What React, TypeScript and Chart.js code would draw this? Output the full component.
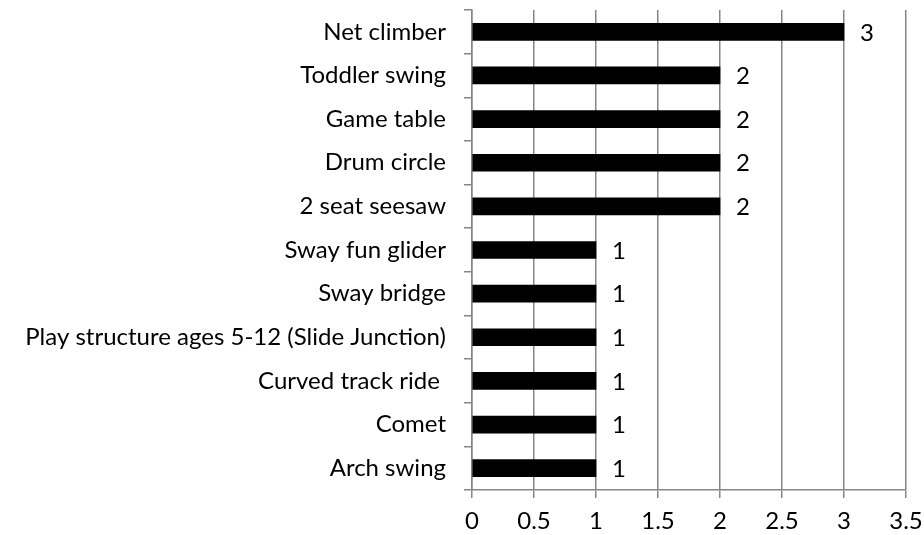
import React, { useEffect, useRef } from "react";
import { Chart, registerables } from "chart.js";

Chart.register(...registerables);

const categories = [
  "Net climber",
  "Toddler swing",
  "Game table",
  "Drum circle",
  "2 seat seesaw",
  "Sway fun glider",
  "Sway bridge",
  "Play structure ages 5-12 (Slide Junction)",
  "Curved track ride ",
  "Comet",
  "Arch swing",
];
const values = [3, 2, 2, 2, 2, 1, 1, 1, 1, 1, 1];
const xMin = 0;
const xMax = 3.5;
const xStep = 0.5;

const FONT = "Lato, 'Open Sans', sans-serif";
const FONT_SIZE = 24;

const valueLabels = {
  id: "valueLabels",
  afterDatasetsDraw(chart: any) {
    const ctx = chart.ctx;
    const meta = chart.getDatasetMeta(0);
    ctx.save();
    ctx.fillStyle = "#000";
    ctx.font = `${FONT_SIZE}px ${FONT}`;
    ctx.textAlign = "left";
    ctx.textBaseline = "middle";
    meta.data.forEach((bar: any, i: number) => {
      ctx.fillText(String(values[i]), bar.x + 16, bar.y + 1);
    });
    ctx.restore();
  },
};

export default function App() {
  const ref = useRef<HTMLCanvasElement>(null);
  useEffect(() => {
    if (!ref.current) return;
    const chart = new Chart(ref.current, {
      type: "bar",
      data: {
        labels: categories,
        datasets: [
          {
            data: values,
            backgroundColor: "#000000",
            borderWidth: 0,
            barThickness: 17,
          },
        ],
      },
      options: {
        indexAxis: "y",
        animation: false,
        responsive: false,
        maintainAspectRatio: false,
        layout: { padding: { top: 10, right: 18, left: 0, bottom: 0 } },
        plugins: {
          legend: { display: false },
          tooltip: { enabled: false },
        },
        scales: {
          x: {
            min: xMin,
            max: xMax,
            ticks: {
              stepSize: xStep,
              color: "#000",
              font: { family: FONT, size: FONT_SIZE },
              padding: 9,
              callback: (v: any) => String(Number(v)),
            },
            grid: {
              color: "#868686",
              lineWidth: 1.5,
              tickLength: 8,
              drawTicks: true,
            },
            border: { color: "#868686", width: 1.5 },
            afterFit(scale: any) {
              scale.height = 45;
              scale.paddingLeft = 0;
              scale.paddingRight = 0;
            },
          },
          y: {
            ticks: {
              color: "#000",
              font: { family: FONT, size: FONT_SIZE },
              padding: 18,
              autoSkip: false,
            },
            grid: {
              color: "#868686",
              lineWidth: 1.5,
              drawOnChartArea: false,
              tickLength: 8,
              offset: true,
            },
            border: { color: "#868686", width: 1.5 },
            afterFit(scale: any) {
              scale.width = 472;
              scale.paddingTop = 0;
              scale.paddingBottom = 0;
            },
          },
        },
      },
      plugins: [valueLabels],
    });
    return () => chart.destroy();
  }, []);
  return (
    <div style={{ position: "fixed", left: 0, top: 0, width: 924, height: 535, background: "#fff" }}>
      <canvas ref={ref} width={924} height={535} style={{ width: 924, height: 535 }} />
    </div>
  );
}
